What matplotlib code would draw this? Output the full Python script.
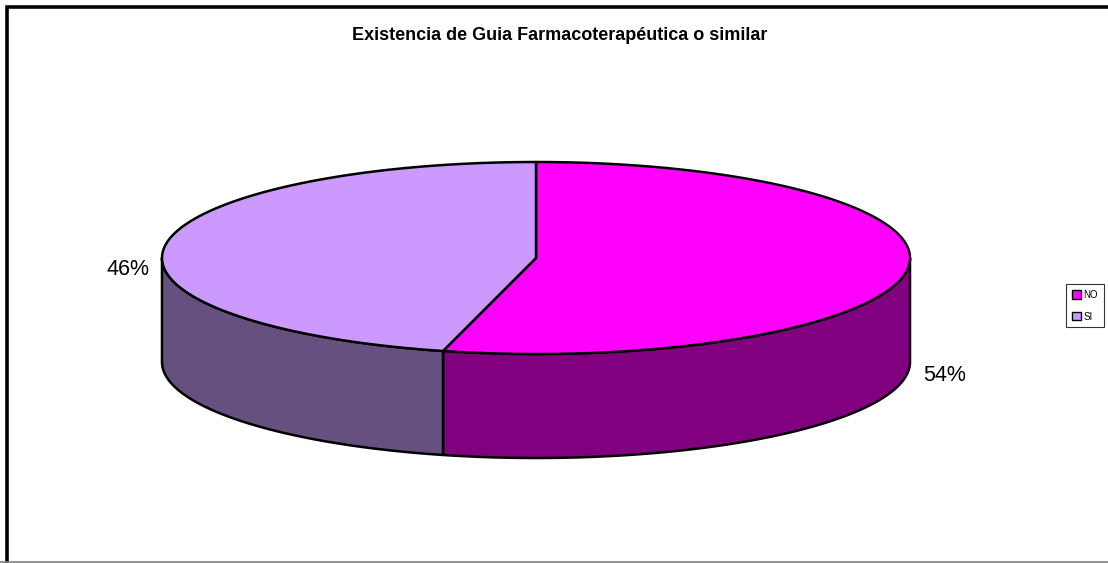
import numpy as np
import matplotlib.pyplot as plt
from matplotlib.patches import Polygon, Patch

#### Data
##############################################################################
labels = ['NO', 'SI']
values = [54, 46]
top_colors = ['#FF00FF', '#CC99FF']
side_colors = ['#800080', '#665080']
title = 'Existencia de Guia Farmacoterapéutica o similar'

#### Layout (pixels, y pointing down)
##############################################################################
W, H = 1108, 563
cx, cy = 536, 258      # centre of top ellipse
a, b = 374, 96         # half axes of top ellipse
depth = 104            # height of the pie wall

plt.rcParams['font.family'] = ['Liberation Sans', 'DejaVu Sans']

fig = plt.figure(figsize=(W / 100, H / 100), dpi=100)
ax = fig.add_axes([0, 0, 1, 1])
ax.set_xlim(0, W)
ax.set_ylim(H, 0)
ax.axis('off')


def arc(t1, t2, dz=0, n=200):
    t = np.linspace(t1, t2, n)
    return np.column_stack([cx + a * np.sin(t), cy - b * np.cos(t) + dz])


# slice angles, clockwise from 12 o'clock
fracs = np.array(values) / np.sum(values)
edges = np.concatenate([[0], np.cumsum(fracs)]) * 2 * np.pi

# side walls (only the front half is visible)
for i in range(len(values)):
    t1 = max(edges[i], np.pi / 2)
    t2 = min(edges[i + 1], 3 * np.pi / 2)
    if t2 <= t1:
        continue
    top = arc(t1, t2)
    bot = arc(t2, t1, dz=depth)
    ax.add_patch(Polygon(np.vstack([top, bot]), closed=True,
                         facecolor=side_colors[i], edgecolor='black',
                         lw=1.8, joinstyle='round'))

# top faces
for i in range(len(values)):
    pts = np.vstack([[cx, cy], arc(edges[i], edges[i + 1])])
    ax.add_patch(Polygon(pts, closed=True, facecolor=top_colors[i],
                         edgecolor='black', lw=1.8, joinstyle='round'))

# percentage labels
for i in range(len(values)):
    mid = (edges[i] + edges[i + 1]) / 2
    lx = cx + 1.1 * a * np.sin(mid)
    ly = cy - 1.1 * b * np.cos(mid)
    ly += depth if np.cos(mid) < 0 else 25
    ax.text(lx, ly, '{:.0f}%'.format(fracs[i] * 100), fontsize=15.5,
            ha='center', va='center', color='black')

# title
ax.text(560, 35, title, fontsize=13, fontweight='bold',
        ha='center', va='center', color='black')

# chart frame
ax.plot([7, 7, W + 10], [H + 10, 7, 7], color='black', lw=2.6,
        solid_joinstyle='miter')
ax.plot([0, W], [561.5, 561.5], color='#808080', lw=1.2)

# legend
handles = [Patch(facecolor=c, edgecolor='black', lw=1.0) for c in top_colors]
leg = ax.legend(handles, labels, loc='upper left',
                bbox_to_anchor=(1066 / W, 1 - 284 / H),
                bbox_transform=fig.transFigure, borderaxespad=0,
                fontsize=7, fancybox=False, handlelength=0.9,
                handleheight=0.9, handletextpad=0.3, labelspacing=1.2,
                borderpad=0.6)
leg.get_frame().set_edgecolor('black')
leg.get_frame().set_linewidth(0.8)

fig.savefig('out.png', dpi=100)
